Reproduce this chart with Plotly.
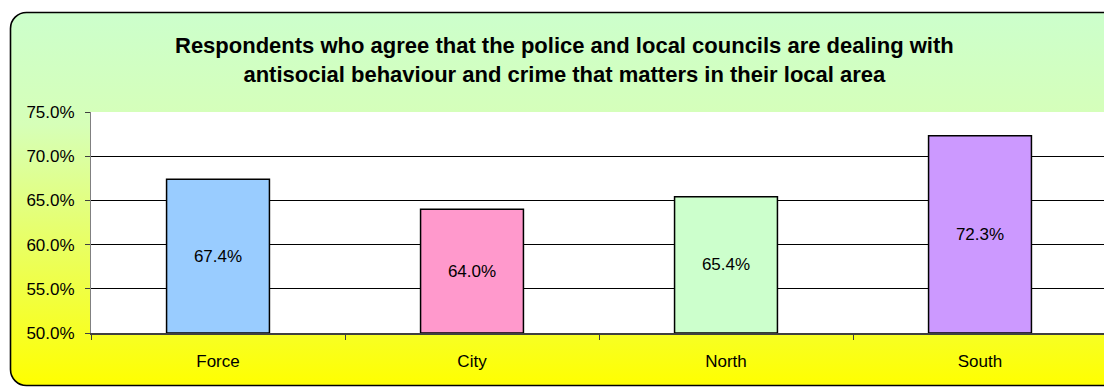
import plotly.graph_objects as go
import base64

categories = ["Force", "City", "North", "South"]
values = [67.4, 64.0, 65.4, 72.3]
bar_colors = ["#99CCFF", "#FF99CC", "#CCFFCC", "#CC99FF"]
axis_min = 50
y_ticks = [50, 55, 60, 65, 70, 75]
y_tick_labels = ["50.0%", "55.0%", "60.0%", "65.0%", "70.0%", "75.0%"]
title_lines = [
    "Respondents who agree that the police and local councils are dealing with",
    "antisocial behaviour and crime that matters in their local area",
]

W, H = 1104, 387
L, R, T, B = 91, 1104, 112, 333

svg = f'''<svg xmlns="http://www.w3.org/2000/svg" width="{W}" height="{H}" viewBox="0 0 {W} {H}">
<defs><linearGradient id="g" x1="0" y1="0" x2="0" y2="1">
<stop offset="0" stop-color="#CCFFCC"/><stop offset="0.3" stop-color="#D6FFB8"/><stop offset="1" stop-color="#FFFF00"/>
</linearGradient></defs>
<rect x="10.5" y="12.5" width="1110" height="373" rx="16" ry="16" fill="url(#g)" stroke="#000" stroke-width="1.6"/>
</svg>'''
svg_uri = "data:image/svg+xml;base64," + base64.b64encode(svg.encode()).decode()

FONT = "Liberation Sans, Arial"

fig = go.Figure()
fig.add_trace(go.Bar(
    x=categories,
    base=axis_min,
    y=[v - axis_min for v in values],
    marker=dict(color=bar_colors, line=dict(color="#000000", width=1.5)),
    width=0.405,
    text=[f"{v:.1f}%" for v in values],
    textposition="inside", insidetextanchor="middle",
    textfont=dict(family=FONT, size=17, color="#000000"),
    constraintext="none",
    hoverinfo="skip",
))

fig.update_layout(
    width=W, height=H,
    margin=dict(l=0, r=0, t=0, b=0),
    paper_bgcolor="#FFFFFF",
    plot_bgcolor="rgba(0,0,0,0)",
    template="none",
    showlegend=False,
    font=dict(family=FONT, color="#000000"),
    images=[dict(source=svg_uri, xref="paper", yref="paper", x=0, y=1,
                 sizex=1, sizey=1, xanchor="left", yanchor="top",
                 sizing="stretch", layer="below")],
    shapes=[dict(type="rect", xref="x domain", yref="y domain", x0=0, x1=1, y0=0, y1=1,
                 fillcolor="#FFFFFF", line=dict(width=0), layer="below")],
    annotations=[dict(text="<b>" + "<br>".join(title_lines) + "</b>",
                      xref="paper", yref="paper", x=564 / W, y=1 - 60 / H,
                      xanchor="center", yanchor="middle", showarrow=False,
                      font=dict(family=FONT, size=22, color="#000000"),
                      align="center")],
    xaxis=dict(
        domain=[L / W, 1],
        range=[-0.5, -0.5 + (R - L) / 254],
        tickmode="array", tickvals=list(range(len(categories))), ticktext=categories,
        tickson="boundaries", ticks="outside", ticklen=5, tickcolor="#404040",
        ticklabelstandoff=12,
        showgrid=False, zeroline=False,
        showline=True, linecolor="#404040", linewidth=2,
        tickfont=dict(size=17, family=FONT, color="#000000"),
        automargin=False, fixedrange=True,
    ),
    yaxis=dict(
        domain=[1 - B / H, 1 - T / H],
        range=[axis_min, 75],
        tickmode="array", tickvals=y_ticks, ticktext=y_tick_labels,
        ticks="outside", ticklen=5, tickcolor="#404040",
        ticklabelstandoff=7,
        showgrid=True, gridcolor="#000000", gridwidth=1,
        zeroline=False,
        showline=True, linecolor="#808080", linewidth=1,
        tickfont=dict(size=17, family=FONT, color="#000000"),
        automargin=False, fixedrange=True,
    ),
)

fig.write_html("out.html")
